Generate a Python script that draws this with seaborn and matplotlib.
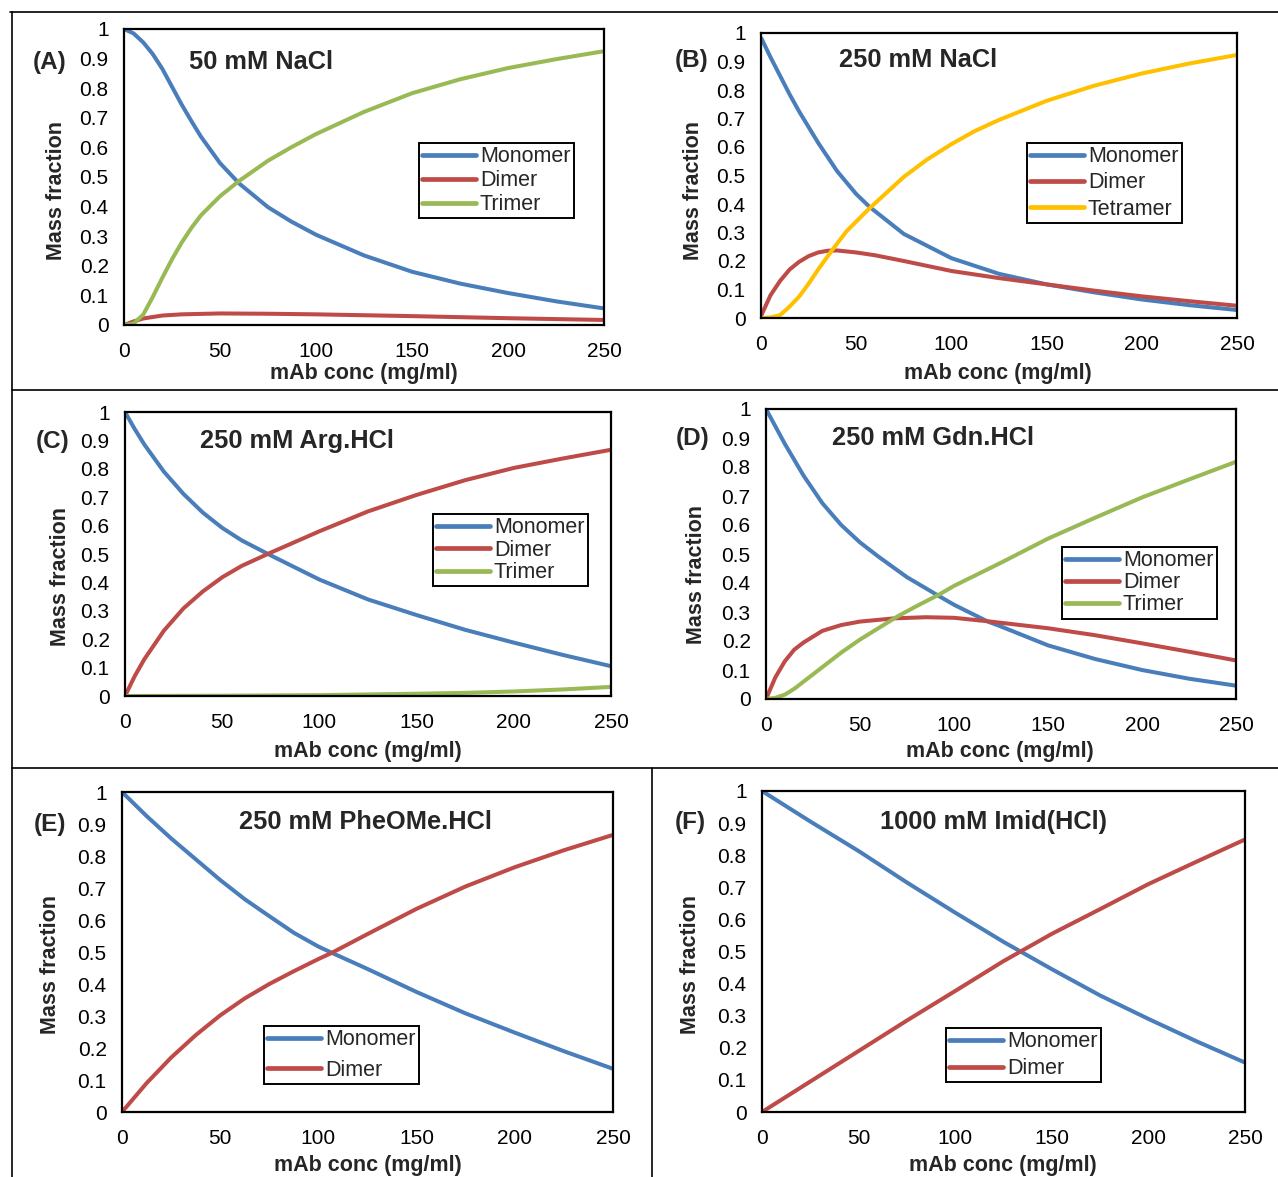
import numpy as np
import pandas as pd
import matplotlib
matplotlib.use("Agg")
import matplotlib.pyplot as plt
import seaborn as sns
from matplotlib.lines import Line2D

sns.set_theme(style="white")
plt.rcParams['font.family'] = ['Liberation Sans', 'DejaVu Sans']

BLUE = "#4A7EBB"
RED = "#BE4B48"
GREEN = "#98B954"
YELLOW = "#FFC000"

# ---------------- data ----------------
# Panel A: 50 mM NaCl
a_x_mono = [0, 5, 10, 15, 20, 25, 30, 35, 40, 50, 60, 75, 87, 100, 125, 150, 175, 200, 225, 250]
a_mono = [1.0, 0.985, 0.955, 0.915, 0.865, 0.805, 0.745, 0.69, 0.637, 0.547, 0.478, 0.398, 0.35, 0.305, 0.235, 0.18, 0.14, 0.108, 0.08, 0.056]
a_x_dim = [0, 5, 10, 20, 30, 50, 75, 100, 150, 200, 250]
a_dim = [0.0, 0.012, 0.022, 0.032, 0.036, 0.039, 0.038, 0.036, 0.030, 0.023, 0.017]
a_x_tri = [0, 5, 10, 15, 20, 25, 30, 35, 40, 50, 60, 75, 87, 100, 125, 150, 175, 200, 225, 250]
a_tri = [0.0, 0.005, 0.035, 0.095, 0.16, 0.222, 0.278, 0.327, 0.37, 0.435, 0.487, 0.555, 0.60, 0.645, 0.72, 0.783, 0.83, 0.868, 0.898, 0.925]

# Panel B: 250 mM NaCl
b_x_mono = [0, 5, 10, 15, 20, 25, 30, 40, 50, 57, 75, 100, 125, 150, 175, 200, 225, 250]
b_mono = [0.984, 0.915, 0.85, 0.785, 0.725, 0.67, 0.615, 0.515, 0.435, 0.39, 0.295, 0.21, 0.155, 0.118, 0.09, 0.065, 0.045, 0.028]
b_x_dim = [0, 5, 10, 15, 20, 25, 30, 35, 40, 50, 60, 75, 100, 125, 150, 175, 200, 225, 250]
b_dim = [0.007, 0.08, 0.13, 0.17, 0.197, 0.217, 0.23, 0.236, 0.237, 0.23, 0.22, 0.2, 0.165, 0.14, 0.118, 0.096, 0.076, 0.059, 0.043]
b_x_tet = [0, 5, 10, 15, 20, 25, 30, 37, 45, 57, 75, 87, 100, 112, 125, 150, 175, 200, 225, 250]
b_tet = [0.0, 0.002, 0.01, 0.04, 0.075, 0.12, 0.17, 0.235, 0.305, 0.385, 0.495, 0.555, 0.61, 0.655, 0.695, 0.762, 0.815, 0.858, 0.893, 0.923]

# Panel C: 250 mM Arg.HCl
c_x_mono = [0, 5, 10, 20, 30, 40, 50, 60, 75, 100, 125, 150, 175, 200, 225, 250]
c_mono = [1.0, 0.94, 0.885, 0.79, 0.712, 0.646, 0.592, 0.548, 0.495, 0.41, 0.34, 0.285, 0.233, 0.188, 0.145, 0.105]
c_x_dim = [0, 5, 10, 20, 30, 40, 50, 60, 75, 100, 125, 150, 175, 200, 225, 250]
c_dim = [0.0, 0.07, 0.13, 0.23, 0.308, 0.368, 0.418, 0.458, 0.505, 0.58, 0.65, 0.708, 0.76, 0.803, 0.836, 0.867]
c_x_tri = [0, 50, 100, 150, 175, 200, 225, 250]
c_tri = [0.0, 0.001, 0.003, 0.008, 0.011, 0.016, 0.023, 0.032]

# Panel D: 250 mM Gdn.HCl
d_x_mono = [0, 5, 10, 15, 20, 30, 40, 50, 60, 75, 92, 100, 118, 125, 150, 175, 200, 225, 250]
d_mono = [1.0, 0.94, 0.88, 0.825, 0.77, 0.675, 0.60, 0.54, 0.49, 0.42, 0.355, 0.325, 0.267, 0.25, 0.185, 0.138, 0.10, 0.07, 0.046]
d_x_dim = [0, 5, 10, 15, 20, 30, 40, 50, 68, 85, 100, 118, 150, 175, 200, 225, 250]
d_dim = [0.0, 0.075, 0.13, 0.17, 0.195, 0.235, 0.255, 0.267, 0.278, 0.282, 0.28, 0.268, 0.244, 0.22, 0.192, 0.163, 0.133]
d_x_tri = [0, 5, 10, 15, 20, 30, 40, 50, 60, 70, 80, 92, 100, 125, 150, 175, 200, 225, 250]
d_tri = [0.0, 0.004, 0.015, 0.035, 0.06, 0.11, 0.16, 0.205, 0.245, 0.285, 0.32, 0.36, 0.39, 0.47, 0.553, 0.625, 0.695, 0.757, 0.818]

# Panel E: 250 mM PheOMe.HCl
e_x = [0, 12.5, 25, 37.5, 50, 62.5, 75, 87.5, 100, 107, 125, 150, 175, 200, 225, 250]
e_mono = [1.0, 0.925, 0.855, 0.79, 0.725, 0.665, 0.612, 0.56, 0.517, 0.497, 0.447, 0.375, 0.308, 0.248, 0.19, 0.135]
e_dim = [0.0, 0.09, 0.17, 0.24, 0.302, 0.355, 0.40, 0.44, 0.478, 0.498, 0.556, 0.635, 0.705, 0.765, 0.818, 0.866]

# Panel F: 1000 mM Imid(HCl)
f_x = [0, 25, 50, 75, 100, 125, 150, 175, 200, 225, 250]
f_mono = [1.0, 0.905, 0.813, 0.715, 0.621, 0.53, 0.445, 0.363, 0.29, 0.22, 0.154]
f_dim = [0.0, 0.095, 0.19, 0.285, 0.377, 0.47, 0.555, 0.632, 0.71, 0.78, 0.849]

y_ticks = [0, 0.1, 0.2, 0.3, 0.4, 0.5, 0.6, 0.7, 0.8, 0.9, 1.0]
y_ticklabels = ["0", "0.1", "0.2", "0.3", "0.4", "0.5", "0.6", "0.7", "0.8", "0.9", "1"]
x_ticks = [0, 50, 100, 150, 200, 250]

# ---------------- layout ----------------
W, H = 1278, 1177
fig = plt.figure(figsize=(W / 100, H / 100), dpi=100)


def rect(l, r, t, b):
    return [l / W, 1 - b / H, (r - l) / W, (b - t) / H]


panels = [
    dict(box=(124, 604, 29, 325), tag="(A)", tag_xy=(50, 63), title="50 mM NaCl", title_xy=(261, 62),
         series=[("Monomer", a_x_mono, a_mono, BLUE), ("Dimer", a_x_dim, a_dim, RED),
                 ("Trimer", a_x_tri, a_tri, GREEN)],
         leg=(419, 143), ls=0.14, ylab=(57, 191), xlab=(364, 374)),
    dict(box=(761, 1237, 33, 318), tag="(B)", tag_xy=(692, 61), title="250 mM NaCl", title_xy=(918, 60),
         series=[("Monomer", b_x_mono, b_mono, BLUE), ("Dimer", b_x_dim, b_dim, RED),
                 ("Tetramer", b_x_tet, b_tet, YELLOW)],
         leg=(1027, 143), ls=0.24, ylab=(693, 190), xlab=(998, 374)),
    dict(box=(125, 611, 412, 696), tag="(C)", tag_xy=(53, 441), title="250 mM Arg.HCl", title_xy=(297, 441),
         series=[("Monomer", c_x_mono, c_mono, BLUE), ("Dimer", c_x_dim, c_dim, RED),
                 ("Trimer", c_x_tri, c_tri, GREEN)],
         leg=(433, 514), ls=0.07, ylab=(61, 576), xlab=(368, 751)),
    dict(box=(766, 1236, 409, 699), tag="(D)", tag_xy=(693, 439), title="250 mM Gdn.HCl", title_xy=(933, 438),
         series=[("Monomer", d_x_mono, d_mono, BLUE), ("Dimer", d_x_dim, d_dim, RED),
                 ("Trimer", d_x_tri, d_tri, GREEN)],
         leg=(1062, 547), ls=0.05, ylab=(697, 574), xlab=(1000, 751)),
    dict(box=(122, 613, 792, 1112), tag="(E)", tag_xy=(50, 824), title="250 mM PheOMe.HCl", title_xy=(365, 822),
         series=[("Monomer", e_x, e_mono, BLUE), ("Dimer", e_x, e_dim, RED)],
         leg=(264, 1026), ls=0.44, ylab=(50, 965), xlab=(368, 1165)),
    dict(box=(762, 1245, 791, 1112), tag="(F)", tag_xy=(690, 823), title="1000 mM Imid(HCl)", title_xy=(993, 822),
         series=[("Monomer", f_x, f_mono, BLUE), ("Dimer", f_x, f_dim, RED)],
         leg=(946, 1028), ls=0.28, ylab=(690, 965), xlab=(1003, 1165)),
]

FS = 15
LABFS = 15.5
for p in panels:
    l, r, t, b = p["box"]
    ax = fig.add_axes(rect(l, r, t, b))
    frames = []
    for name, xs, ys, col in p["series"]:
        frames.append(pd.DataFrame({"conc": xs, "frac": ys, "species": name}))
    df = pd.concat(frames, ignore_index=True)
    pal = {name: col for name, _, _, col in p["series"]}
    sns.lineplot(data=df, x="conc", y="frac", hue="species", palette=pal, ax=ax,
                 linewidth=2.9, legend=False, sort=False, estimator=None)
    for ln in ax.get_lines():
        ln.set_solid_capstyle("butt")
        ln.set_solid_joinstyle("round")
    ax.set_xlim(0, 250)
    ax.set_ylim(0, 1)
    ax.set_xticks(x_ticks)
    ax.set_xticklabels([str(v) for v in x_ticks], fontsize=FS)
    ax.set_yticks(y_ticks)
    ax.set_yticklabels(y_ticklabels, fontsize=FS)
    ax.tick_params(axis="x", direction="in", length=6, width=1.2, pad=12, colors="black")
    ax.tick_params(axis="y", direction="out", length=5, width=1.2, pad=6, colors="black")
    for s in ax.spines.values():
        s.set_visible(True)
        s.set_color("black")
        s.set_linewidth(1.6)
    ax.set_xlabel("mAb conc (mg/ml)", fontsize=LABFS, fontweight="bold")
    ax.set_ylabel("Mass fraction", fontsize=LABFS, fontweight="bold")
    ax.xaxis.label.set_va("center")
    ax.yaxis.label.set_va("center")
    xlx, xly = p["xlab"]
    ax.xaxis.set_label_coords(xlx / W, 1 - xly / H, transform=fig.transFigure)
    ylx, yly = p["ylab"]
    ax.yaxis.set_label_coords(ylx / W, 1 - yly / H, transform=fig.transFigure)
    ax.grid(False)
    # title text
    tx, ty = p["title_xy"]
    fig.text(tx / W, 1 - ty / H, p["title"], fontsize=18.3, fontweight="bold",
             ha="center", va="center")
    # panel tag
    gx, gy = p["tag_xy"]
    fig.text(gx / W, 1 - gy / H, p["tag"], fontsize=17.5,
             fontweight="bold", ha="center", va="center")
    # legend
    lx, ly = p["leg"]
    handles = [Line2D([0], [0], color=col, lw=3.4) for _, _, _, col in p["series"]]
    labels = [name for name, _, _, _ in p["series"]]
    leg = ax.legend(handles, labels, loc="upper left",
                    bbox_to_anchor=(lx / W, 1 - ly / H), bbox_transform=fig.transFigure,
                    fontsize=LABFS, frameon=True, fancybox=False, handlelength=2.5,
                    handletextpad=0.18, labelspacing=p["ls"], borderpad=0.15,
                    borderaxespad=0, framealpha=1)
    leg.get_frame().set_edgecolor("black")
    leg.get_frame().set_linewidth(1.4)


# table-like separator lines
def hline(y, x0, x1):
    fig.add_artist(Line2D([x0 / W, x1 / W], [1 - y / H, 1 - y / H], color="black", lw=1.2))


def vline(x, y0, y1):
    fig.add_artist(Line2D([x / W, x / W], [1 - y0 / H, 1 - y1 / H], color="black", lw=1.2))


hline(12, 10, W)
hline(390, 12, W)
hline(768, 12, W)
vline(12, 12, H)
vline(652, 768, H)

fig.savefig("out.png", dpi=100, facecolor="white")
